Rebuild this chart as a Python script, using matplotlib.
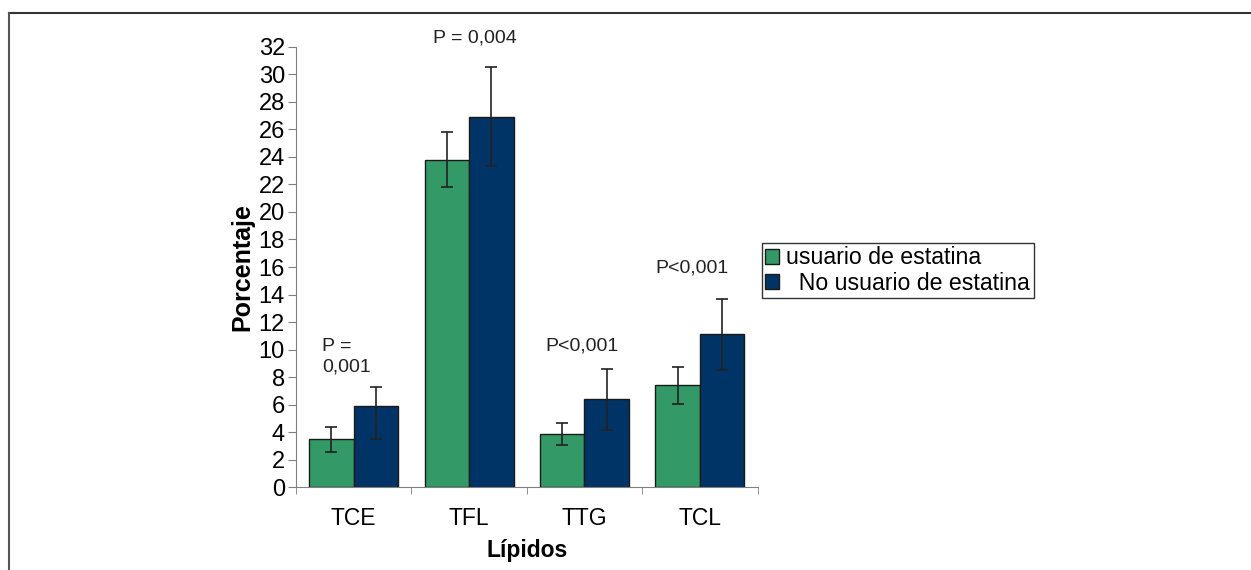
import matplotlib
matplotlib.use("Agg")
import matplotlib.pyplot as plt
import numpy as np
from matplotlib.lines import Line2D
from matplotlib.patches import Patch

plt.rcParams['font.family'] = ['Liberation Sans', 'DejaVu Sans']

# data
categories = ['TCE', 'TFL', 'TTG', 'TCL']
statin_users = [3.5, 23.8, 3.9, 7.4]
statin_err = [0.9, 2.0, 0.8, 1.33]
non_users = [5.9, 26.9, 6.4, 11.1]
non_err_low = [2.4, 3.6, 2.25, 2.6]
non_err_high = [1.35, 3.65, 2.2, 2.6]
p_labels = ['P = \n0,001', 'P = 0,004', 'P<0,001', 'P<0,001']
legend_labels = ['usuario de estatina', '  No usuario de estatina']

green = '#339966'
navy = '#003366'

fig = plt.figure(figsize=(12.51, 5.70), dpi=100)
ax = fig.add_axes([296 / 1251, 1 - 487.3 / 570, 461.5 / 1251, 440.6 / 570])

x = np.arange(len(categories))
w = 0.386
ax.bar(x - w / 2, statin_users, w, color=green, edgecolor='#1a1a1a', linewidth=1,
       yerr=statin_err, error_kw=dict(ecolor='#222222', elinewidth=1.2, capsize=4, capthick=1.2))
ax.bar(x + w / 2, non_users, w, color=navy, edgecolor='#1a1a1a', linewidth=1,
       yerr=[non_err_low, non_err_high],
       error_kw=dict(ecolor='#222222', elinewidth=1.2, capsize=4, capthick=1.2))

ax.set_xlim(-0.5, len(categories) - 0.5)
ax.set_ylim(0, 32)
ax.set_yticks(np.arange(0, 33, 2))
ax.tick_params(axis='y', labelsize=17, length=6, color='#808080', pad=2)
ax.set_xticks(x)
ax.set_xticklabels(categories, fontsize=16.5)
ax.tick_params(axis='x', length=0, pad=14)
ax.set_xticks(np.arange(-0.5, len(categories), 1), minor=True)
ax.tick_params(axis='x', which='minor', length=5, color='#808080')

for s in ['top', 'right']:
    ax.spines[s].set_visible(False)
for s in ['left', 'bottom']:
    ax.spines[s].set_color('#808080')

ax.set_ylabel('Porcentaje', fontsize=18, fontweight='bold', labelpad=3)
ax.set_xlabel('Lípidos', fontsize=16.5, fontweight='bold', labelpad=7)

# p-value annotations
ax.text(-0.275, 9.5, p_labels[0], fontsize=14, ha='left', va='center', color='#222222',
        linespacing=1.3)
ax.text(1.05, 32.6, p_labels[1], fontsize=14, ha='center', va='center', color='#222222',
        clip_on=False)
ax.text(1.98, 10.26, p_labels[2], fontsize=14, ha='center', va='center', color='#222222')
ax.text(2.93, 15.9, p_labels[3], fontsize=14, ha='center', va='center', color='#222222')

handles = [Patch(facecolor=green, edgecolor='#1a1a1a', linewidth=1),
           Patch(facecolor=navy, edgecolor='#1a1a1a', linewidth=1)]
leg = fig.legend(handles, legend_labels, loc='upper left',
                 bbox_to_anchor=(762 / 1251, 1 - 243 / 570), fontsize=16.7,
                 fancybox=False, framealpha=1, edgecolor='#333333',
                 handlelength=0.6, handleheight=0.6, handletextpad=0.3,
                 borderpad=0.15, labelspacing=0.1, borderaxespad=0)
leg.get_frame().set_linewidth(1)

# outer frame lines
fig.add_artist(Line2D([9 / 1251, 1], [1 - 13 / 570, 1 - 13 / 570],
                      transform=fig.transFigure, color='#333333', linewidth=1.5))
fig.add_artist(Line2D([9 / 1251, 9 / 1251], [0, 1 - 13 / 570],
                      transform=fig.transFigure, color='#555555', linewidth=1.5))

fig.savefig('out.png', dpi=100)
